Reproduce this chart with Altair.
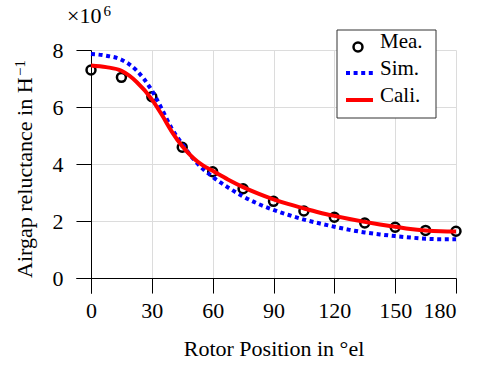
import altair as alt
import pandas as pd

# ---- data (y in units of 1e6 H^-1) ----
mea_x = [0, 15, 30, 45, 60, 75, 90, 105, 120, 135, 150, 165, 180]
mea_y = [7.30, 7.04, 6.36, 4.59, 3.73, 3.13, 2.69, 2.35, 2.13, 1.93, 1.78, 1.67, 1.64]

curve_x = [0, 7.5, 15, 22.5, 30, 35, 40, 45, 50, 55, 60, 67.5, 75, 82.5, 90,
           97.5, 105, 112.5, 120, 127.5, 135, 142.5, 150, 157.5, 165, 172.5, 180]
sim_y = [7.86, 7.80, 7.66, 7.28, 6.58, 5.92, 5.22, 4.70, 4.22, 3.84, 3.55, 3.18,
         2.86, 2.60, 2.39, 2.21, 2.05, 1.92, 1.80, 1.69, 1.60, 1.53, 1.47, 1.42,
         1.38, 1.36, 1.36]
cali_y = [7.46, 7.40, 7.27, 6.88, 6.27, 5.72, 5.12, 4.62, 4.24, 3.96, 3.76, 3.46,
          3.19, 2.96, 2.76, 2.59, 2.44, 2.30, 2.18, 2.07, 1.97, 1.88, 1.80, 1.72,
          1.67, 1.64, 1.63]

x_ticks = [0, 30, 60, 90, 120, 150, 180]
y_ticks = [0, 2, 4, 6, 8]
legend_labels = ["Mea.", "Sim.", "Cali."]
y_title = "Airgap reluctance in H"
y_title_sup = "−1"

FONT = "Liberation Serif"
FS = 22

mea = pd.DataFrame({"x": mea_x, "y": mea_y})
sim = pd.DataFrame({"x": curve_x, "y": sim_y})
cali = pd.DataFrame({"x": curve_x, "y": cali_y})

xscale = alt.Scale(domain=[-7.4, 180], nice=False, zero=False)
yscale = alt.Scale(domain=[-0.526, 8], nice=False, zero=False)

xaxis = alt.Axis(values=x_ticks, title="Rotor Position in °el", offset=-15, tickSize=15,
                 labelPadding=7, titleX=197.5, titleY=77, titleBaseline="alphabetic",
                 grid=True, labelFont=FONT, labelFontSize=FS, titleFont=FONT,
                 titleFontSize=FS)
yaxis = alt.Axis(values=y_ticks, title="", offset=-15, tickSize=15,
                 labelPadding=13, grid=True, labelFont=FONT, labelFontSize=FS)

pts = alt.Chart(mea).mark_point(shape="circle", filled=False, size=80, strokeWidth=2.5,
                                color="black", opacity=1).encode(
    x=alt.X("x:Q", scale=xscale, axis=xaxis),
    y=alt.Y("y:Q", scale=yscale, axis=yaxis),
)
sim_line = alt.Chart(sim).mark_line(color="#0000ff", strokeWidth=4, strokeDash=[4, 3.6],
                                    strokeCap="butt", interpolate="monotone").encode(
    x=alt.X("x:Q", scale=xscale, axis=xaxis), y=alt.Y("y:Q", scale=yscale, axis=yaxis))
cali_line = alt.Chart(cali).mark_line(color="#ff0000", strokeWidth=4,
                                      interpolate="monotone").encode(
    x=alt.X("x:Q", scale=xscale, axis=xaxis), y=alt.Y("y:Q", scale=yscale, axis=yaxis))

dummy = alt.Data(values=[{"a": 1}])

ytitle_main = alt.Chart(dummy).mark_text(text=y_title, font=FONT, fontSize=FS, align="left",
                                         baseline="alphabetic", angle=270,
                                         color="black").encode(
    x=alt.value(-44), y=alt.value(228))
ytitle_sup = alt.Chart(dummy).mark_text(text=y_title_sup, font=FONT, fontSize=15, align="left",
                                        baseline="alphabetic", angle=270,
                                        color="black").encode(
    x=alt.value(-51), y=alt.value(26))

exp1 = alt.Chart(dummy).mark_text(text="×10", font=FONT, fontSize=FS, align="left",
                                  baseline="alphabetic", color="black").encode(
    x=alt.value(-9), y=alt.value(-27))
exp2 = alt.Chart(dummy).mark_text(text="6", font=FONT, fontSize=15, align="left",
                                  baseline="alphabetic", color="black").encode(
    x=alt.value(27.5), y=alt.value(-34))

leg_box = alt.Chart(dummy).mark_rect(fill="white", stroke="#333333", strokeWidth=1).encode(
    x=alt.value(261), x2=alt.value(360), y=alt.value(-20), y2=alt.value(68))
leg_pt = alt.Chart(dummy).mark_point(shape="circle", filled=False, size=80, strokeWidth=2.5,
                                     color="black", opacity=1).encode(
    x=alt.value(282), y=alt.value(-3))
leg_sim = alt.Chart(dummy).mark_rule(color="#0000ff", strokeWidth=4, strokeDash=[4, 3.6],
                                     strokeCap="butt").encode(
    x=alt.value(270), x2=alt.value(298), y=alt.value(23))
leg_cali = alt.Chart(dummy).mark_rule(color="#ff0000", strokeWidth=4).encode(
    x=alt.value(270), x2=alt.value(297), y=alt.value(50))
leg_txt = [
    alt.Chart(dummy).mark_text(text=t, font=FONT, fontSize=21, align="left",
                               baseline="alphabetic", color="black").encode(
        x=alt.value(304), y=alt.value(yy))
    for t, yy in zip(legend_labels, [-2, 25, 52])
]

chart = alt.layer(pts, sim_line, cali_line, ytitle_main, ytitle_sup, exp1, exp2, leg_box,
                  leg_pt, leg_sim, leg_cali, *leg_txt).properties(
    width=380, height=243,
    autosize=alt.AutoSizeParams(type="none"),
    padding={"left": 76, "top": 50, "right": 23, "bottom": 74},
    background="white",
).configure_view(strokeWidth=0).configure_axis(
    domainColor="black", tickColor="black", domainWidth=1, tickWidth=1,
    labelFont=FONT, labelFontSize=FS, labelColor="black",
    titleFont=FONT, titleFontSize=FS, titleFontWeight="normal", titleColor="black",
    gridColor="#dcdcdc", gridWidth=1,
).configure_text(font=FONT)

chart.save("out.html", embed_options={"renderer": "svg", "actions": False})
